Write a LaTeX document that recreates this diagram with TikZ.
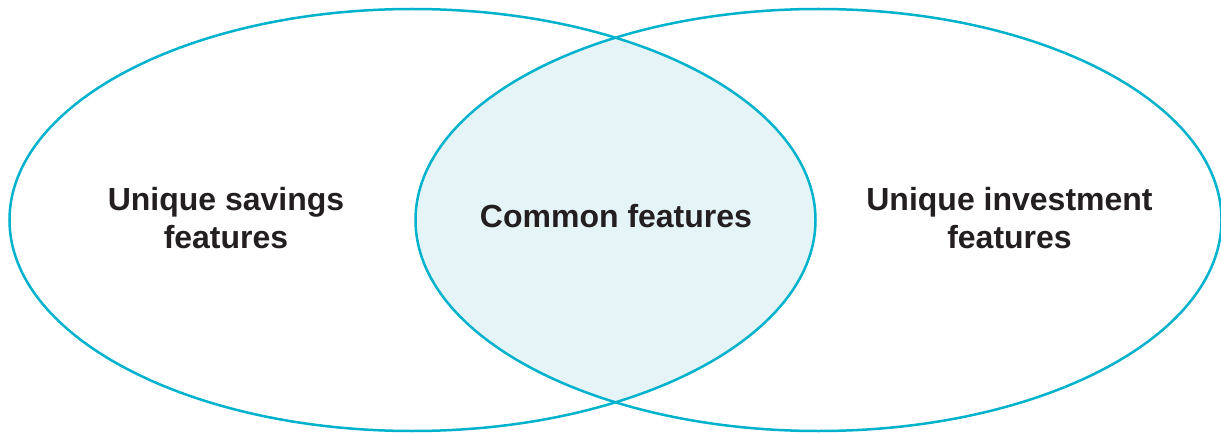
\documentclass[tikz,border=0pt]{standalone}
\usepackage{fontspec}
\setmainfont{Liberation Sans}
\usetikzlibrary{shapes.geometric}
\definecolor{vennCyan}{HTML}{00B2CB}
\definecolor{vennFill}{HTML}{E5F4F6}
\definecolor{inkDark}{HTML}{231F20}

\begin{document}
\begin{tikzpicture}[
          x=1pt, y=-1pt,
          set/.style={ellipse, draw=vennCyan, line width=2.5pt, inner sep=0pt,
                      minimum width=806pt, minimum height=422pt},
          lbl/.style={align=center, text=inkDark,
                      font=\fontsize{32}{38}\selectfont\bfseries}
        ]
        \useasboundingbox (0,0) rectangle (1221,433);
        \coordinate (lc) at (412.5,220);
        \coordinate (rc) at (818.5,220);
        % overlap shading
        \begin{scope}
          \clip (lc) ellipse [x radius=403, y radius=211];
          \fill[vennFill] (rc) ellipse [x radius=403, y radius=211];
        \end{scope}
        \node[set] (sav) at (lc) {};
        \node[set] (inv) at (rc) {};
        \node[lbl] (savtxt) at (226,218) {Unique savings\\features};
        \node[lbl] (comtxt) at (616,216) {Common features};
        \node[lbl] (invtxt) at (1009.5,218) {Unique investment\\features};
      \end{tikzpicture}
\end{document}
